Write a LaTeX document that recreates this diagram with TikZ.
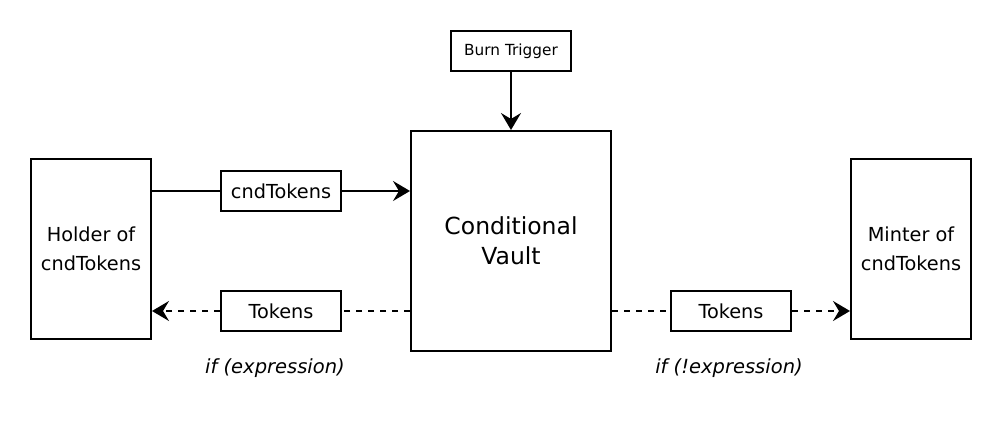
\documentclass[tikz,border=0pt]{standalone}
\usepackage{fontspec}
\setmainfont{DejaVu Sans}
\usetikzlibrary{arrows.meta}
\begin{document}
\begin{tikzpicture}[x=1pt, y=-1pt, line width=2pt,
  box/.style={draw=black, shape=rectangle, inner sep=0pt, align=center, font=\fontsize{19.3}{29}\selectfont},
  tag/.style={draw=black, shape=rectangle, inner sep=0pt, minimum width=120pt, minimum height=40pt, font=\fontsize{19.3}{23}\selectfont},
  cond/.style={font=\itshape\fontsize{19.5}{23}\selectfont},
  flow/.style={-{Stealth[length=17pt, width=20pt, inset=6pt]}},
  dashy/.style={dash pattern=on 6pt off 6pt},
  maybe/.style={flow, dashy}]
\useasboundingbox (0,0) rectangle (1002,430);
\node[box, minimum width=120pt, minimum height=180pt] (0) at (91,249) {Holder of\\cndTokens};
\node[box, minimum width=200pt, minimum height=220pt, font=\fontsize{23.5}{30}\selectfont] (1) at (511,241) {Conditional\\Vault};
\node[box, minimum width=120pt, minimum height=180pt] (2) at (911,249) {Minter of\\cndTokens};
\node[tag, font=\fontsize{15.3}{18}\selectfont] (3) at (511,51) {Burn Trigger};
\node[tag] (4) at (281,191) {cndTokens};
\node[tag] (5) at (281,311) {Tokens};
\node[tag] (6) at (731,311) {Tokens};
\node[cond] (7) at (275,368) {if (expression)};
\node[cond] (8) at (729,368) {if (!expression)};
% solid connectors
\draw[flow] (3) -- (1);
\draw (0.east |- 4) -- (4);
\draw[flow] (4) -- (1.west |- 4);
% conditional payouts
\draw[dashy] (1.west |- 5) -- (5.east);
\draw[maybe] (5) -- (0.east |- 5);
\draw[dashy] (1.east |- 6) -- (6);
\draw[maybe] (6) -- (2.west |- 6);
\end{tikzpicture}
\end{document}
